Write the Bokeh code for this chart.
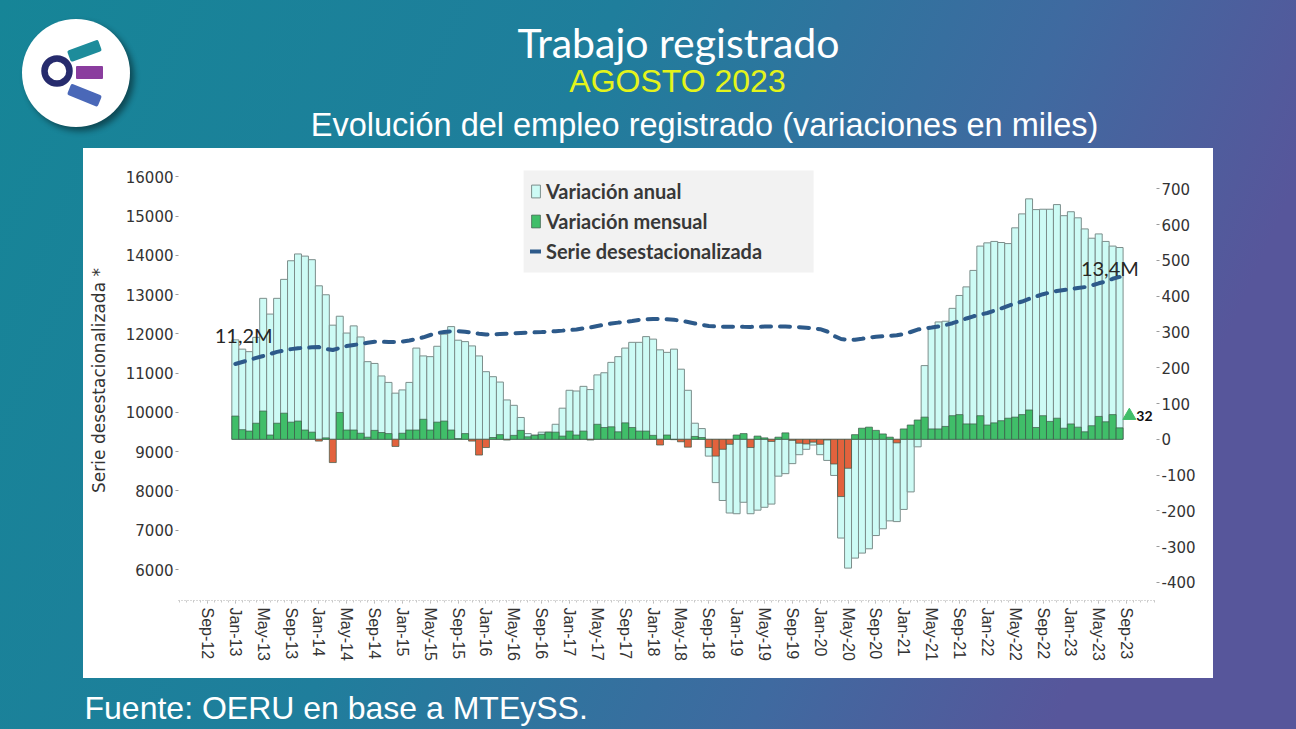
from urllib.parse import quote
from bokeh.plotting import figure
from bokeh.layouts import column
from bokeh.models import (ColumnDataSource, Range1d, LinearAxis, FixedTicker,
                          Legend, LegendItem, Label, PrintfTickFormatter, BoxAnnotation)
from bokeh.embed import file_html
from bokeh.resources import INLINE

# ---------------- data (thousands of workers), Jan-13 .. Aug-23 ----------------
ANNUAL = [278, 252, 245, 285, 394, 350, 394, 447, 499, 518, 512, 502,
          429, 404, 319, 344, 297, 317, 286, 217, 212, 177, 159, 129,
          138, 159, 255, 233, 231, 260, 294, 315, 277, 273, 261, 233,
          189, 175, 160, 110, 95, 61, 16, 12, 20, 20, 42, 87,
          137, 135, 148, 139, 180, 186, 215, 231, 255, 271, 271, 287,
          280, 250, 243, 252, 196, 137, 45, 30, -47, -121, -171, -206,
          -208, -176, -208, -198, -190, -181, -103, -96, -68, -43, -28, -16,
          -43, -59, -101, -276, -360, -332, -318, -306, -269, -250, -228, -230,
          -196, -147, -21, 206, 315, 328, 330, 366, 402, 426, 472, 540,
          549, 553, 550, 547, 591, 630, 672, 642, 643, 643, 656, 625,
          636, 619, 588, 562, 574, 553, 540, 536]

MONTHLY = [65, 27, 23, 45, 79, 12, 45, 73, 48, 51, 26, 20,
           -5, 4, -65, 75, 26, 26, 17, 6, 25, 19, 16, -20,
           17, 26, 26, 56, 26, 48, 51, 26, 2, 16, -5, -44,
           -23, 5, 13, -2, 11, 25, 7, 11, 14, 20, 20, 9,
           23, 12, 23, -2, 42, 33, 35, 21, 46, 33, 23, 23,
           11, -16, 12, -1, -7, -22, 8, 5, -23, -47, -28, -14,
           12, 16, -23, 9, 4, -6, 6, 18, -3, -11, -13, -8,
           -14, -2, -69, -160, -81, 13, 31, 34, 25, 15, 6, -10,
           29, 40, 54, 62, 29, 29, 36, 66, 69, 43, 43, 66,
           40, 46, 52, 59, 62, 69, 82, 33, 66, 50, 59, 31,
           43, 34, 21, 38, 64, 49, 69, 32]

SERIE = [11233, 11284, 11335, 11388, 11437, 11488, 11541, 11577, 11612, 11633, 11646, 11658,
         11665, 11615, 11590, 11640, 11691, 11717, 11742, 11773, 11801, 11801, 11793, 11793,
         11806, 11831, 11870, 11913, 11971, 12022, 12048, 12066, 12071, 12053, 12030, 12005,
         11984, 11989, 11997, 12005, 12015, 12025, 12032, 12040, 12045, 12058, 12068, 12083,
         12099, 12114, 12142, 12165, 12201, 12234, 12264, 12287, 12305, 12330, 12358, 12371,
         12382, 12382, 12374, 12361, 12333, 12302, 12264, 12231, 12203, 12188, 12180, 12182,
         12185, 12180, 12178, 12182, 12186, 12190, 12190, 12188, 12180, 12170, 12157, 12140,
         12119, 12061, 11946, 11870, 11849, 11851, 11875, 11908, 11926, 11938, 11946, 11964,
         11997, 12048, 12111, 12142, 12162, 12188, 12226, 12272, 12328, 12392, 12448, 12491,
         12532, 12590, 12649, 12715, 12774, 12824, 12891, 12952, 13010, 13056, 13092, 13117,
         13140, 13166, 13191, 13232, 13288, 13334, 13403, 13450]

TICK_LABELS = ["Sep-12", "Jan-13", "May-13", "Sep-13", "Jan-14", "May-14", "Sep-14",
               "Jan-15", "May-15", "Sep-15", "Jan-16", "May-16", "Sep-16", "Jan-17",
               "May-17", "Sep-17", "Jan-18", "May-18", "Sep-18", "Jan-19", "May-19",
               "Sep-19", "Jan-20", "May-20", "Sep-20", "Jan-21", "May-21", "Sep-21",
               "Jan-22", "May-22", "Sep-22", "Jan-23", "May-23", "Sep-23"]
FIRST_TICK = -4   # Sep-12 relative to Jan-13

LEFT_TICKS = list(range(6000, 16001, 1000))
RIGHT_TICKS = list(range(-400, 701, 100))

TITLE = "Trabajo registrado"
PERIOD = "AGOSTO 2023"
SUBTITLE = "Evolución del empleo registrado (variaciones en miles)"
SOURCE = "Fuente: OERU en base a MTEySS."

# ---------------- styling ----------------
W = 1296
CYAN = "#cdfbf5"
GREEN = "#40be69"
RED = "#e2623d"
LINE = "#2d5a8a"
TXT = "#333333"


def blank_fig(h):
    f = figure(width=W, height=h, x_range=Range1d(0, W), y_range=Range1d(0, h),
               output_backend="svg", toolbar_location=None,
               x_axis_location=None, y_axis_location=None, min_border=0)
    f.frame_align = False
    f.border_fill_color = None
    f.background_fill_color = None
    f.outline_line_color = None
    f.xgrid.visible = False
    f.ygrid.visible = False
    return f


# ---------------- header (titles) ----------------
head = blank_fig(148)
head.add_layout(Label(x=678, y=106, text=TITLE, text_align="center", text_baseline="middle",
                      text_font="Lato", text_font_size="41px", text_color="#ffffff"))
head.add_layout(Label(x=677, y=68, text=PERIOD, text_align="center", text_baseline="middle",
                      text_font="Liberation Sans", text_font_size="32px", text_color="#e4f41a"))
head.add_layout(Label(x=704, y=24, text=SUBTITLE, text_align="center", text_baseline="middle",
                      text_font="Liberation Sans", text_font_size="32.5px", text_color="#ffffff"))

# ---------------- footer (source) ----------------
foot = blank_fig(51)
foot.add_layout(Label(x=84, y=22, text=SOURCE, text_align="left", text_baseline="middle",
                      text_font="Liberation Sans", text_font_size="32px", text_color="#ffffff"))

# ---------------- chart ----------------
x = list(range(len(ANNUAL)))
month_colors = [GREEN if v >= 0 else RED for v in MONTHLY]
src = ColumnDataSource(dict(x=x, annual=ANNUAL, monthly=MONTHLY, serie=SERIE,
                            mcolor=month_colors))

p = figure(width=W, height=530,
           x_range=Range1d(-8.16, 132.3), y_range=Range1d(-450.5, 779.2),
           y_axis_location="right",
           output_backend="svg", toolbar_location=None,
           min_border_left=178, min_border_right=140,
           min_border_top=12, min_border_bottom=78)
p.frame_align = False
p.extra_y_ranges = {"left": Range1d(5211, 16415)}
p.border_fill_color = None
p.background_fill_color = None
p.outline_line_color = None
p.xgrid.visible = False
p.ygrid.visible = False

# grey panel behind the legend
p.add_layout(BoxAnnotation(left=41.4, right=83.05, top=751, bottom=466,
                           fill_color="#f2f2f2", fill_alpha=1.0, line_color=None,
                           level="underlay"))

r_annual = p.vbar(x="x", top="annual", bottom=0, width=1.0, source=src,
                  fill_color=CYAN, line_color="#7c8e8b", line_width=1)
r_month = p.vbar(x="x", top="monthly", bottom=0, width=1.0, source=src,
                 fill_color="mcolor", line_color="#3c5a48", line_width=1, line_alpha=0.7)
r_line = p.line(x="x", y="serie", source=src, y_range_name="left",
                line_color=LINE, line_width=4, line_dash="10 9", line_cap="round")

# axes
xa = p.xaxis[0]
xa.ticker = FixedTicker(ticks=[FIRST_TICK + 4 * k for k in range(len(TICK_LABELS))],
                        minor_ticks=list(range(-8, 133)))
xa.major_label_overrides = {FIRST_TICK + 4 * k: lab for k, lab in enumerate(TICK_LABELS)}
xa.major_label_orientation = "vertical"
xa.axis_line_color = "#b0b0b0"
xa.axis_line_dash = "1 2"
xa.major_tick_line_color = "#b0b0b0"
xa.minor_tick_line_color = "#c8c8c8"
xa.major_tick_out = 3
xa.major_tick_in = 0
xa.minor_tick_out = 2
xa.minor_tick_in = 0
xa.major_label_standoff = 4
xa.major_label_text_font = "Liberation Sans"
xa.major_label_text_font_size = "16px"
xa.major_label_text_color = TXT

ra = p.yaxis[0]
ra.ticker = FixedTicker(ticks=RIGHT_TICKS)
lax = LinearAxis(y_range_name="left", ticker=FixedTicker(ticks=LEFT_TICKS),
                 axis_label="Serie desestacionalizada *")
p.add_layout(lax, "left")
for ax in (ra, lax):
    ax.formatter = PrintfTickFormatter(format="%d")
    ax.axis_line_color = None
    ax.major_tick_line_color = "#9a9a9a"
    ax.major_tick_out = 3
    ax.major_tick_in = 0
    ax.minor_tick_line_color = None
    ax.major_label_standoff = 2
    ax.major_label_text_font = "DejaVu Sans"
    ax.major_label_text_font_size = "15px"
    ax.major_label_text_color = TXT
lax.axis_label_text_font = "DejaVu Sans"
lax.axis_label_text_font_size = "17px"
lax.axis_label_text_font_style = "normal"
lax.axis_label_text_color = TXT
lax.axis_label_standoff = 14

# legend (its grey panel is the box annotation above)
legend = Legend(items=[LegendItem(label="Variación anual", renderers=[r_annual]),
                       LegendItem(label="Variación mensual", renderers=[r_month]),
                       LegendItem(label="Serie desestacionalizada", renderers=[r_line])],
                location=(352, 337), padding=10, spacing=6, margin=0,
                label_height=23, glyph_height=16, glyph_width=11, label_standoff=5,
                label_width=257,
                background_fill_alpha=0.0, border_line_color=None,
                label_text_font="Lato", label_text_font_style="bold",
                label_text_font_size="20px", label_text_color="#383838")
p.add_layout(legend)

# annotations on the chart
p.add_layout(Label(x=1.2, y=11984, y_range_name="left", text="11,2M",
                   text_align="center", text_baseline="middle",
                   text_font="Lato", text_font_size="20px", text_color="#262626"))
p.add_layout(Label(x=125.6, y=13665, y_range_name="left", text="13,4M",
                   text_align="center", text_baseline="middle",
                   text_font="Lato", text_font_size="20px", text_color="#262626"))
p.scatter(x=[128.4], y=[66], marker="triangle", size=13, fill_color=GREEN,
          line_color=GREEN)
p.add_layout(Label(x=129.4, y=66, text=str(MONTHLY[-1]),
                   text_align="left", text_baseline="middle",
                   text_font="Lato", text_font_size="14px",
                   text_font_style="bold", text_color="#111111"))

# ---------------- slide background (gradient, white panel, logo) ----------------
svg = """<svg xmlns='http://www.w3.org/2000/svg' width='1296' height='729' viewBox='0 0 1296 729'>
<defs>
<linearGradient id='bg' x1='0' y1='0' x2='1' y2='0.25'>
<stop offset='0' stop-color='#168597'/>
<stop offset='0.45' stop-color='#1f7e9c'/>
<stop offset='0.78' stop-color='#3f6aa0'/>
<stop offset='1' stop-color='#57569b'/>
</linearGradient>
<filter id='sh' x='-30%' y='-30%' width='160%' height='160%'><feGaussianBlur stdDeviation='3'/></filter>
</defs>
<rect width='1296' height='729' fill='url(#bg)'/>
<rect x='83' y='148' width='1130' height='530' fill='#ffffff'/>
<circle cx='80' cy='77' r='54' fill='#000000' opacity='0.45' filter='url(#sh)'/>
<circle cx='76' cy='73' r='54' fill='#ffffff'/>
<rect x='68' y='45' width='33' height='12' rx='2' fill='#1d8c9b' transform='rotate(-20 84 51)'/>
<rect x='76' y='66' width='27' height='13' rx='1' fill='#8a3d9e'/>
<rect x='68' y='89' width='33' height='12' rx='2' fill='#4a68b8' transform='rotate(22 84 95)'/>
<circle cx='57' cy='71' r='12.5' fill='#ffffff' stroke='#262b6d' stroke-width='6.5'/>
</svg>"""

layout = column(head, p, foot, spacing=0)
layout.styles = {"background-image": 'url("data:image/svg+xml,' + quote(svg) + '")',
                 "background-repeat": "no-repeat",
                 "background-size": "1296px 729px"}

open("out.html", "w").write(file_html(layout, INLINE))
